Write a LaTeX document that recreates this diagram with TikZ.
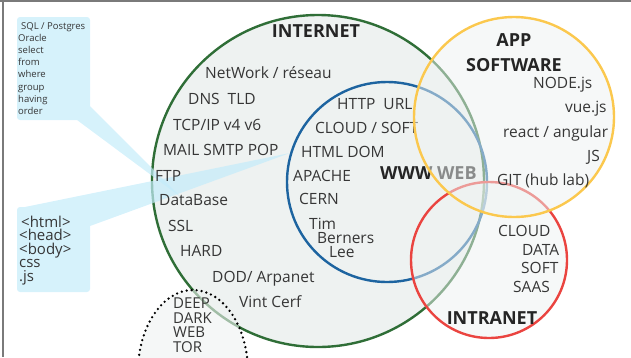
\documentclass[tikz,border=0pt]{standalone}
\usepackage{fontspec}
\setmainfont{Open Sans}
\definecolor{ringgreen}{HTML}{2F6E37}
\definecolor{ringblue}{HTML}{1D64A0}
\definecolor{ringyellow}{HTML}{FBC84E}
\definecolor{ringred}{HTML}{EA4440}
\definecolor{discfill}{HTML}{EEF2F1}
\definecolor{calloutfill}{HTML}{C4ECFA}
\definecolor{txt}{HTML}{363636}
\definecolor{headtxt}{HTML}{252525}
\definecolor{framegray}{HTML}{7A7A7A}
\tikzset{
  ring/.style={circle, inner sep=0pt, line width=2.4pt},
  lbl/.style={anchor=base west, inner sep=0pt, text=txt, font=\fontsize{15.5}{16}\selectfont},
  head/.style={anchor=base, inner sep=0pt, text=headtxt, font=\bfseries\fontsize{18}{18}\selectfont},
  note/.style={anchor=base west, inner sep=0pt, text=txt, font=\fontsize{9.5}{10}\selectfont},
  tagline/.style={anchor=base west, inner sep=0pt, text=txt, font=\fontsize{15}{15}\selectfont},
}
\begin{document}
\begin{tikzpicture}[x=1pt,y=-1pt]
\useasboundingbox (0,0) rectangle (631,357);
\clip (0,0) rectangle (631,357);

% frame edges
\draw[framegray, line width=1.3pt] (0,1) -- (631,1);
\draw[framegray, line width=1.3pt] (3,0) -- (3,357);

% INTERNET and WWW discs
\node[ring, draw=ringgreen, fill=discfill, minimum size=332pt] (internet) at (318,181) {};
\node[ring, draw=ringblue, minimum size=200pt] (www) at (387,182) {};

% callout bubbles with their pointers
\fill[calloutfill, fill opacity=.7]
  (17,17) [rounded corners=3pt] rectangle (90,120)
  [sharp corners] (77,120) -- (182,198) -- (90,106) -- cycle;
\fill[calloutfill, fill opacity=.7]
  (17,207) [rounded corners=3pt] rectangle (90,292)
  [sharp corners] (20,208) -- (90,226) -- (290,153) -- cycle;

% INTERNET labels
\node[head] (tInternet) at (316,37.5) {INTERNET};
\node[lbl] (tNetwork) at (205,78.5) {NetWork / réseau};
\node[lbl] (tDns) at (188,104.5) {DNS~~TLD};
\node[lbl] (tTcp) at (173,130.5) {TCP/IP v4 v6};
\node[lbl] (tMail) at (163,155.5) {MAIL SMTP POP};
\node[lbl] (tFtp) at (155,181.5) {FTP};
\node[lbl] (tDb) at (159,205.5) {DataBase};
\node[lbl] (tSsl) at (168,231.5) {SSL};
\node[lbl] (tHard) at (180,256.5) {HARD};
\node[lbl] (tDod) at (212,282.5) {DOD/ Arpanet};
\node[lbl] (tVint) at (239,307.5) {Vint Cerf};

% WWW labels
\node[lbl] (tHttp) at (337,109.5) {HTTP~~URL};
\node[lbl] (tCloudSoft) at (315,133.5) {CLOUD / SOFT};
\node[lbl] (tHtml) at (301,157.5) {HTML DOM};
\node[lbl] (tApache) at (293,181.5) {APACHE};
\node[lbl] (tCern) at (299,204.5) {CERN};
\node[lbl] (tTim) at (309,229.5) {Tim};
\node[lbl] (tBerners) at (317,243.5) {Berners};
\node[lbl] (tLee) at (329,257.5) {Lee};
\node[head, anchor=base west] (tWeb) at (380,179) {WWW WEB};

% INTRANET and APP discs laid over
\node[ring, draw=ringred, fill=discfill, fill opacity=.5, minimum size=156pt] (intranet) at (489,260) {};
\node[ring, draw=ringyellow, fill=discfill, fill opacity=.5, minimum size=200pt] (app) at (514,117) {};

% deep web arch
\draw[line width=2.6pt, dash pattern=on 0pt off 5pt, line cap=round, fill=discfill, fill opacity=.6]
  (193,372) ellipse [x radius=55pt, y radius=82pt];

% APP labels
\node[head] (tApp) at (514,46.5) {APP};
\node[head] (tSoftware) at (514,71.5) {SOFTWARE};
\node[lbl] (tNode) at (533,88.5) {NODE.js};
\node[lbl] (tVue) at (565,112.5) {vue.js};
\node[lbl] (tReact) at (503,137.5) {react / angular};
\node[lbl] (tJs) at (587,161.5) {JS};
\node[lbl] (tGit) at (497,185.5) {GIT (hub lab)};

% INTRANET labels
\node[lbl] (tCloud) at (498,236.5) {CLOUD};
\node[lbl] (tData) at (522,255.5) {DATA};
\node[lbl] (tSoft) at (521,273.5) {SOFT};
\node[lbl] (tSaas) at (513,292.5) {SAAS};
\node[head] (tIntranet) at (492,324.5) {INTRANET};

% deep web labels
\node[tagline] (tDeep) at (173,308.5) {DEEP};
\node[tagline] (tDark) at (173,323) {DARK};
\node[tagline] (tWebD) at (173,337.5) {WEB};
\node[tagline] (tTor) at (173,352) {TOR};

% SQL callout text
\node[note] (nSql) at (21,29) {SQL / Postgres};
\node[note] (nOracle) at (18,41.2) {Oracle};
\node[note] (nSelect) at (18,53.4) {select};
\node[note] (nFrom) at (18,65.6) {from};
\node[note] (nWhere) at (18,77.8) {where};
\node[note] (nGroup) at (18,90) {group};
\node[note] (nHaving) at (18,102.2) {having};
\node[note] (nOrder) at (18,114.4) {order};

% HTML callout text
\node[tagline] (hHtml) at (21,227) {<html>};
\node[tagline] (hHead) at (19,240.5) {<head>};
\node[tagline] (hBody) at (19,254) {<body>};
\node[tagline] (hCss) at (19,267.5) {css};
\node[tagline] (hJs) at (19,281) {.js};
\end{tikzpicture}
\end{document}
